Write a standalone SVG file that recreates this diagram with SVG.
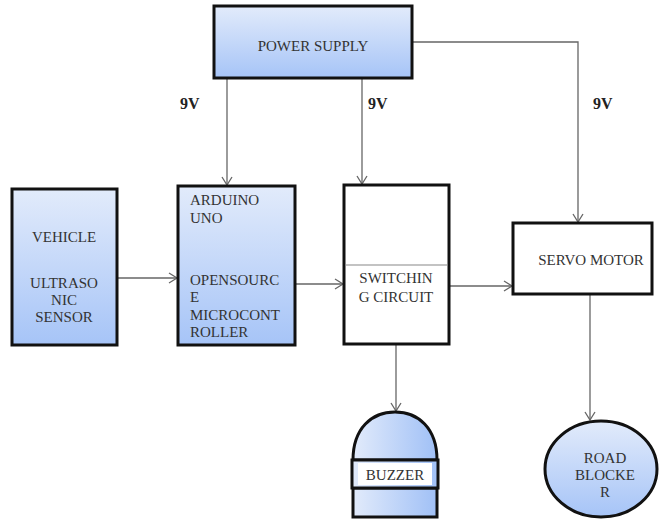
<svg xmlns="http://www.w3.org/2000/svg" width="659" height="522" viewBox="0 0 659 522">
<defs>
<linearGradient id="gv" x1="0" y1="0" x2="0" y2="1"><stop offset="0" stop-color="#e2ebfb"/><stop offset="1" stop-color="#a6c4f7"/></linearGradient>
<linearGradient id="gh" x1="0" y1="0" x2="1" y2="0"><stop offset="0" stop-color="#e2ebfb"/><stop offset="1" stop-color="#a0c0f6"/></linearGradient>
<marker id="ah" markerWidth="12" markerHeight="12" refX="10" refY="6" orient="auto" markerUnits="userSpaceOnUse"><path d="M2,1 L10,6 L2,11" fill="none" stroke="#666" stroke-width="1.3"/></marker>
<style>
.b{stroke:#111;stroke-width:3;}
.t{font-family:"Liberation Serif","Times New Roman",serif;font-size:15px;fill:#333;}
.c{text-anchor:middle;}
.v{font-family:"Liberation Serif","Times New Roman",serif;font-size:16px;font-weight:bold;fill:#222;}
.l{fill:none;stroke:#666;stroke-width:1.3;}
</style>
</defs>
<g id="connectors">
<path class="l" d="M227,79 V185" marker-end="url(#ah)"/>
<path class="l" d="M362,79 V184" marker-end="url(#ah)"/>
<path class="l" d="M412,42 H578 V222" marker-end="url(#ah)"/>
<path class="l" d="M117,278 H177" marker-end="url(#ah)"/>
<path class="l" d="M295,284 H343" marker-end="url(#ah)"/>
<path class="l" d="M449,286 H512" marker-end="url(#ah)"/>
<path class="l" d="M396,344 V411" marker-end="url(#ah)"/>
<path class="l" d="M590,294 V420" marker-end="url(#ah)"/>
</g>
<g id="labels">
<text class="v" x="180" y="109">9V</text>
<text class="v" x="368" y="109">9V</text>
<text class="v" x="593" y="109">9V</text>
</g>
<g id="power-supply">
<rect class="b" x="214" y="6" width="198" height="72" fill="url(#gv)"/>
<text class="t c" x="313" y="51">POWER SUPPLY</text>
</g>
<g id="vehicle-sensor">
<rect class="b" x="12" y="189" width="105" height="156" fill="url(#gv)"/>
<text class="t c" x="64" y="242">VEHICLE</text>
<text class="t c" x="64" y="288">ULTRASO</text>
<text class="t c" x="64" y="305">NIC</text>
<text class="t c" x="64" y="322">SENSOR</text>
</g>
<g id="arduino">
<rect class="b" x="178" y="186" width="117" height="159" fill="url(#gv)"/>
<text class="t" x="190" y="205">ARDUINO</text>
<text class="t" x="190" y="223">UNO</text>
<text class="t" x="190" y="285">OPENSOURC</text>
<text class="t" x="190" y="302">E</text>
<text class="t" x="190" y="320">MICROCONT</text>
<text class="t" x="190" y="337">ROLLER</text>
</g>
<g id="switching-circuit">
<rect class="b" x="344" y="185" width="105" height="159" fill="#fff"/>
<line x1="345" y1="265" x2="448" y2="265" stroke="#888" stroke-width="1.2"/>
<text class="t c" x="396" y="283">SWITCHIN</text>
<text class="t c" x="396" y="302">G CIRCUIT</text>
</g>
<g id="servo-motor">
<rect class="b" x="513" y="223" width="139" height="71" fill="#fff"/>
<text class="t c" x="591" y="265">SERVO MOTOR</text>
</g>
<g id="buzzer">
<path class="b" d="M353,460 C353,428 372,412 395,412 C418,412 437,428 437,460 Z" fill="url(#gh)"/>
<rect class="b" x="353" y="488" width="84" height="29" fill="url(#gh)"/>
<rect class="b" x="352" y="460" width="86" height="28" fill="url(#gh)"/>
<rect x="358" y="463" width="74" height="22" fill="#fff"/>
<text class="t c" x="395" y="480">BUZZER</text>
</g>
<g id="road-blocker">
<ellipse class="b" cx="601" cy="469" rx="56" ry="48" fill="url(#gv)"/>
<text class="t c" x="605" y="463">ROAD</text>
<text class="t c" x="605" y="480">BLOCKE</text>
<text class="t c" x="605" y="497">R</text>
</g>
</svg>
